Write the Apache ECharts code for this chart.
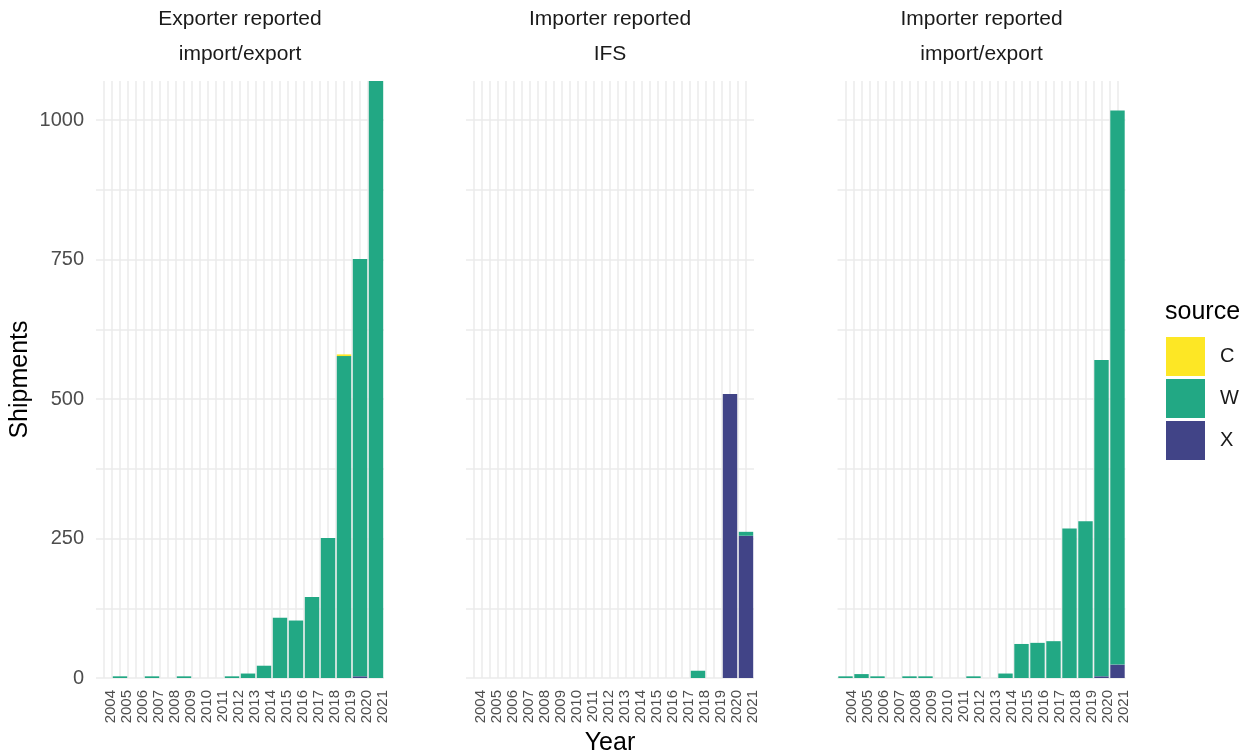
<!DOCTYPE html>
<html>
<head>
<meta charset="utf-8">
<title>Shipments by year and source</title>
<script src="https://cdn.jsdelivr.net/npm/echarts@6/dist/echarts.min.js"></script>
<style>
  html, body { margin: 0; padding: 0; background: #ffffff; }
  #chart { width: 1251px; height: 756px; }
</style>
</head>
<body>
<div id="chart"></div>
<script>
// Years on the x axis (one bar per year)
const years = [2004, 2005, 2006, 2007, 2008, 2009, 2010, 2011, 2012,
               2013, 2014, 2015, 2016, 2017, 2018, 2019, 2020, 2021];

// Panel titles (two strip lines each)
const panelTitles = [
  ['Exporter reported', 'import/export'],
  ['Importer reported', 'IFS'],
  ['Importer reported', 'import/export']
];

// Source levels and their fills
const sources = ['C', 'W', 'X'];
const sourceColors = { C: '#FDE725', W: '#22A884', X: '#414487' };

// Y axis labelled ticks
const yTicks = [0, 250, 500, 750, 1000];

// Shipments per year, exporter reported import/export
const exporterC = [0, 0, 0, 0, 0, 0, 0, 0, 0, 0, 0, 0, 0, 0, 0, 3, 0, 0];
const exporterW = [0, 3, 0, 3, 0, 3, 0, 0, 3, 8, 22, 108, 103, 145, 251, 577, 748, 1070];
const exporterX = [0, 0, 0, 0, 0, 0, 0, 0, 0, 0, 0, 0, 0, 0, 0, 0, 3, 0];

// Shipments per year, importer reported IFS
const ifsC = [0, 0, 0, 0, 0, 0, 0, 0, 0, 0, 0, 0, 0, 0, 0, 0, 0, 0];
const ifsW = [0, 0, 0, 0, 0, 0, 0, 0, 0, 0, 0, 0, 0, 0, 13, 0, 0, 7];
const ifsX = [0, 0, 0, 0, 0, 0, 0, 0, 0, 0, 0, 0, 0, 0, 0, 0, 509, 255];

// Shipments per year, importer reported import/export
const importerC = [0, 0, 0, 0, 0, 0, 0, 0, 0, 0, 0, 0, 0, 0, 0, 0, 0, 0];
const importerW = [3, 7, 3, 0, 3, 3, 0, 0, 3, 0, 8, 61, 63, 66, 268, 281, 567, 993];
const importerX = [0, 0, 0, 0, 0, 0, 0, 0, 0, 0, 0, 0, 0, 0, 0, 0, 3, 24];

const panelData = [
  { C: exporterC, W: exporterW, X: exporterX },
  { C: ifsC, W: ifsW, X: ifsX },
  { C: importerC, W: importerW, X: importerX }
];

// Layout
const FONT = "'Liberation Sans', Arial, sans-serif";
const panelLefts = [96, 466, 837.5];
const panelWidth = 288;
const panelTop = 81;
const panelHeight = 597;
const xMin = years[0] - 0.5;
const xMax = years[years.length - 1] + 0.5;
const yMax = 1070;
const barPx = 0.9 * panelWidth / (xMax - xMin);
const gridColor = '#ebebeb';

const grids = [], xAxes = [], yAxes = [], titles = [], series = [];

panelLefts.forEach(function (left, i) {
  grids.push({
    left: left, top: panelTop, width: panelWidth, height: panelHeight,
    containLabel: false, outerBoundsMode: 'none'
  });

  xAxes.push({
    type: 'value', gridIndex: i, min: xMin, max: xMax, interval: 0.5,
    axisLine: { show: false }, axisTick: { show: false },
    axisLabel: {
      show: true, rotate: 90, margin: 12, fontSize: 15, color: '#4d4d4d', fontFamily: FONT,
      verticalAlign: 'top', lineHeight: 13,
      formatter: function (v) { return Math.abs(v - Math.round(v)) < 1e-6 ? String(Math.round(v)) : ''; }
    },
    splitLine: { show: true, showMinLine: false, showMaxLine: false, lineStyle: { color: gridColor, width: 1.5 } },
    name: i === 1 ? 'Year' : '', nameLocation: 'middle', nameGap: 53, nameMoveOverlap: false,
    nameTextStyle: { fontSize: 25, color: '#000000', fontFamily: FONT }
  });

  yAxes.push({
    type: 'value', gridIndex: i, min: 0, max: yMax, interval: 125,
    axisLine: { show: false }, axisTick: { show: false },
    axisLabel: {
      show: i === 0, margin: 12, fontSize: 20, color: '#4d4d4d', fontFamily: FONT, showMaxLabel: false,
      formatter: function (v) { return yTicks.indexOf(v) >= 0 ? String(v) : ''; }
    },
    splitLine: { show: true, showMaxLine: false, lineStyle: { color: gridColor, width: 1.5 } },
    name: i === 0 ? 'Shipments' : '', nameLocation: 'middle', nameGap: 63, nameRotate: 90, nameMoveOverlap: false,
    nameTextStyle: { fontSize: 25, color: '#000000', fontFamily: FONT }
  });

  titles.push({
    text: panelTitles[i].join('\n'),
    left: left + panelWidth / 2, top: 2, padding: 0, textAlign: 'center',
    textStyle: { fontSize: 21, fontWeight: 'normal', color: '#1a1a1a', lineHeight: 35, fontFamily: FONT }
  });

  // Every series carries all years so stacks line up year by year; X sits at the bottom, then W, then C.
  // The shipments column comes first so that it is the stacked dimension.
  ['X', 'W', 'C'].forEach(function (s) {
    const values = panelData[i][s];
    series.push({
      type: 'bar', name: s, xAxisIndex: i, yAxisIndex: i, stack: 'panel' + i,
      barWidth: barPx,
      dimensions: ['shipments', 'year'],
      encode: { x: 'year', y: 'shipments' },
      data: years.map(function (yr, k) { return [values[k], yr]; }),
      itemStyle: { color: sourceColors[s] },
      emphasis: { disabled: true }, animation: false
    });
  });
});

titles.push({
  text: 'source', left: 1165, top: 300, padding: 0,
  textStyle: { fontSize: 25, fontWeight: 'normal', color: '#000000', fontFamily: FONT }
});

const chart = echarts.init(document.getElementById('chart'), null, { renderer: 'canvas' });
chart.setOption({
  backgroundColor: '#ffffff',
  animation: false,
  title: titles,
  grid: grids,
  xAxis: xAxes,
  yAxis: yAxes,
  legend: {
    data: sources, orient: 'vertical', left: 1166, top: 337, padding: 0,
    itemWidth: 39, itemHeight: 39, itemGap: 3, icon: 'rect', selectedMode: false,
    textStyle: { fontSize: 20, color: '#1a1a1a', fontFamily: FONT, padding: [0, 0, 0, 10] }
  },
  series: series
});
</script>
</body>
</html>
